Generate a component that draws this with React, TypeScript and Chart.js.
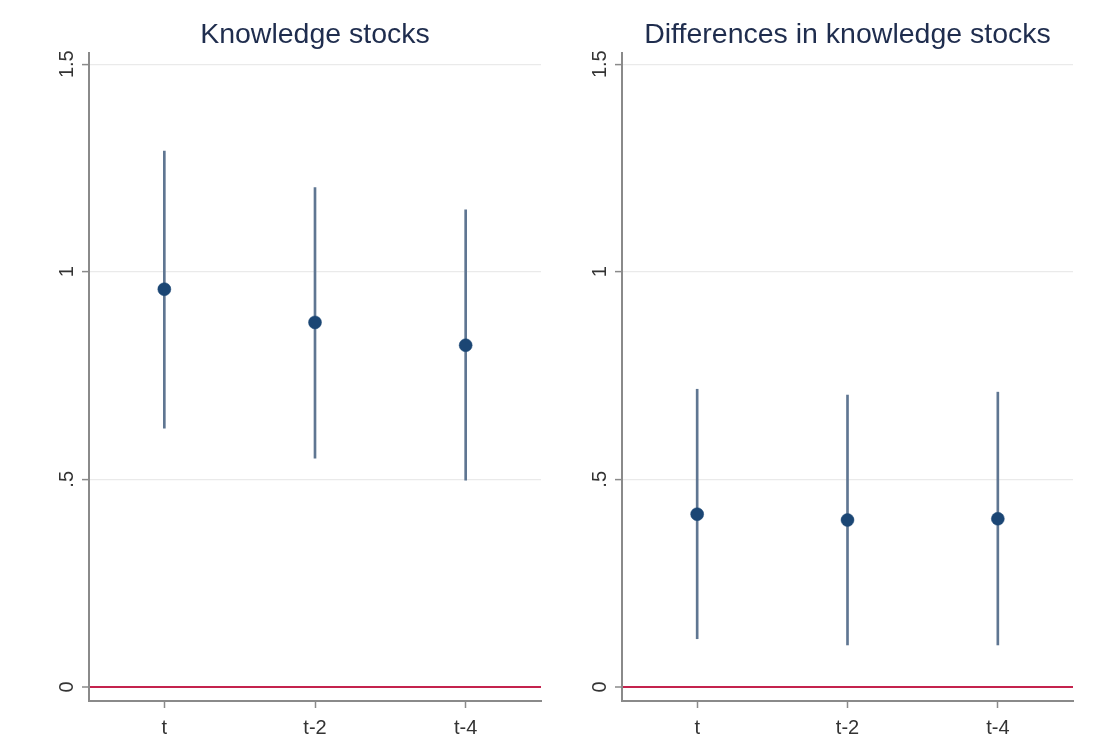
import React, { useEffect, useRef } from "react";
import { Chart, registerables } from "chart.js";

Chart.register(...registerables);

const categories = ["t", "t-2", "t-4"];
const yTickValues = [0, 0.5, 1, 1.5];
const yTickLabels = ["0", ".5", "1", "1.5"];

const leftTitle = "Knowledge stocks";
const leftEstimate = [0.958, 0.878, 0.823];
const leftLower = [0.623, 0.551, 0.498];
const leftUpper = [1.291, 1.203, 1.149];

const rightTitle = "Differences in knowledge stocks";
const rightEstimate = [0.416, 0.402, 0.405];
const rightLower = [0.116, 0.101, 0.101];
const rightUpper = [0.717, 0.703, 0.710];

const Y_MIN = -0.034;
const Y_MAX = 1.527;

const FONT = "'Liberation Sans', Arial, Helvetica, sans-serif";

type PanelProps = {
  title: string;
  est: number[];
  lo: number[];
  hi: number[];
  canvasLeft: number;
  canvasWidth: number;
  areaLeft: number;
  areaRight: number;
};

const H = 738;
const AREA_TOP = 53;
const AREA_BOTTOM = 701;

function Panel(p: PanelProps) {
  const ref = useRef<HTMLCanvasElement | null>(null);
  useEffect(() => {
    if (!ref.current) return;
    const titlePlugin = {
      id: "panelTitle",
      afterDraw(chart: any) {
        const { ctx, chartArea } = chart;
        ctx.save();
        ctx.font = `28.5px ${FONT}`;
        ctx.fillStyle = "#1f2d4e";
        ctx.textAlign = "center";
        ctx.textBaseline = "alphabetic";
        ctx.fillText(p.title, (chartArea.left + chartArea.right) / 2, 43);
        ctx.restore();
      },
    };
    const chart = new Chart(ref.current, {
      type: "bar",
      data: {
        labels: categories,
        datasets: [
          {
            type: "line",
            data: p.est,
            showLine: false,
            pointRadius: 6.5,
            pointHoverRadius: 6.5,
            pointBackgroundColor: "#1b4674",
            pointBorderColor: "#1b4674",
            pointBorderWidth: 0.5,
            order: 0,
          } as any,
          {
            type: "bar",
            data: p.lo.map((l, i) => [l, p.hi[i]]),
            backgroundColor: "#5f7692",
            borderWidth: 0,
            barThickness: 2,
            order: 1,
          } as any,
        ],
      },
      options: {
        responsive: false,
        animation: false,
        devicePixelRatio: 1,
        layout: {
          padding: { left: 0, right: p.canvasWidth - p.areaRight, top: AREA_TOP, bottom: 0 },
        },
        plugins: {
          legend: { display: false },
          title: { display: false },
          tooltip: { enabled: false },
        },
        scales: {
          x: {
            type: "category",
            offset: true,
            grid: {
              display: true,
              drawOnChartArea: false,
              drawTicks: true,
              tickLength: 7,
              tickColor: "#8a8a8a",
              tickWidth: 1.5,
              offset: false,
            },
            border: { display: true, color: "#8a8a8a", width: 2 },
            ticks: {
              color: "#333333",
              font: { family: FONT, size: 20 },
              padding: 8,
              maxRotation: 0,
              minRotation: 0,
            },
            afterFit(scale: any) {
              scale.height = H - AREA_BOTTOM;
            },
          },
          y: {
            type: "linear",
            min: Y_MIN,
            max: Y_MAX,
            afterBuildTicks(scale: any) {
              scale.ticks = yTickValues.map((v) => ({ value: v }));
            },
            grid: {
              color: (ctx: any) => (ctx.tick && ctx.tick.value === 0 ? "#c4234d" : "#eaeaea"),
              lineWidth: (ctx: any) => (ctx.tick && ctx.tick.value === 0 ? 2 : 1.2),
              drawTicks: true,
              tickLength: 7,
              tickColor: "#8a8a8a",
              tickWidth: 1.5,
            },
            border: { display: true, color: "#8a8a8a", width: 2 },
            ticks: {
              color: "#333333",
              font: { family: FONT, size: 20 },
              padding: 1,
              minRotation: 90,
              maxRotation: 90,
              crossAlign: "center",
              autoSkip: false,
              callback: (v: any) => {
                const idx = yTickValues.indexOf(Number(v));
                return idx >= 0 ? yTickLabels[idx] : "";
              },
            },
            afterFit(scale: any) {
              scale.width = p.areaLeft;
            },
          },
        },
      },
      plugins: [titlePlugin],
    } as any);
    return () => chart.destroy();
  }, []);
  return (
    <canvas
      ref={ref}
      width={p.canvasWidth}
      height={H}
      style={{
        position: "absolute",
        left: p.canvasLeft,
        top: 0,
        width: p.canvasWidth,
        height: H,
        display: "block",
      }}
    />
  );
}

export default function App() {
  return (
    <div
      style={{
        position: "fixed",
        left: 0,
        top: 0,
        width: 1101,
        height: 738,
        background: "#ffffff",
        overflow: "hidden",
      }}
    >
      <Panel
        title={leftTitle}
        est={leftEstimate}
        lo={leftLower}
        hi={leftUpper}
        canvasLeft={0}
        canvasWidth={551}
        areaLeft={89}
        areaRight={541}
      />
      <Panel
        title={rightTitle}
        est={rightEstimate}
        lo={rightLower}
        hi={rightUpper}
        canvasLeft={551}
        canvasWidth={550}
        areaLeft={71}
        areaRight={522}
      />
    </div>
  );
}
